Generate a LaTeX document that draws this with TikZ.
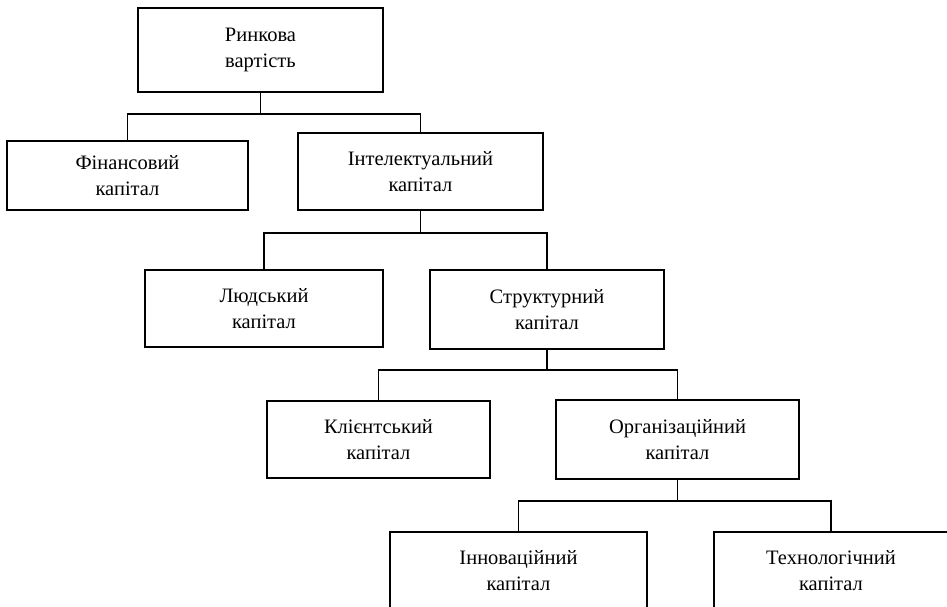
\documentclass[tikz,border=0pt]{standalone}
\usepackage{fontspec}
\setmainfont{Liberation Serif}
\tikzset{
  box/.style={draw, line width=1.8pt, align=center, inner sep=0pt,
    font=\fontsize{20.5}{26}\selectfont},
  link/.style={line width=1.8pt}
}
\begin{document}
\begin{tikzpicture}[x=1pt,y=-1pt]
\useasboundingbox (0,0) rectangle (947,607);
\clip (0,0) rectangle (947,607);
\node[box, minimum width=245pt, minimum height=84pt] (r) at (260.5,50) {Ринкова\\вартість};
\node[box, minimum width=241pt, minimum height=69pt] (f) at (127.5,175.5) {Фінансовий\\капітал};
\node[box, minimum width=245pt, minimum height=77pt] (i) at (420.5,171.5) {Інтелектуальний\\капітал};
\node[box, minimum width=238pt, minimum height=77pt] (l) at (264,308.5) {Людський\\капітал};
\node[box, minimum width=234pt, minimum height=79pt] (s) at (547,309.5) {Структурний\\капітал};
\node[box, minimum width=223pt, minimum height=77pt] (k) at (378.5,439.5) {Клієнтський\\капітал};
\node[box, minimum width=243pt, minimum height=79pt] (o) at (677.5,439.5) {Організаційний\\капітал};
\node[box, minimum width=257pt, minimum height=77pt] (n) at (518.5,570.5) {Інноваційний\\капітал};
\node[box, minimum width=234pt, minimum height=77pt] (t) at (831,570.5) {Технологічний\\капітал};
% connectors
\draw[link] (r.south) -- ++(0,21) coordinate (b1);
\draw[link] (f.north) |- (b1) -| (i.north);
\draw[link] (i.south) -- ++(0,22) coordinate (b2);
\draw[link] (l.north) |- (b2) -| (s.north);
\draw[link] (s.south) -- ++(0,20) coordinate (b3);
\draw[link] (k.north) |- (b3) -| (o.north);
\draw[link] (o.south) -- ++(0,21) coordinate (b4);
\draw[link] (n.north) |- (b4) -| (t.north);
\end{tikzpicture}
\end{document}
